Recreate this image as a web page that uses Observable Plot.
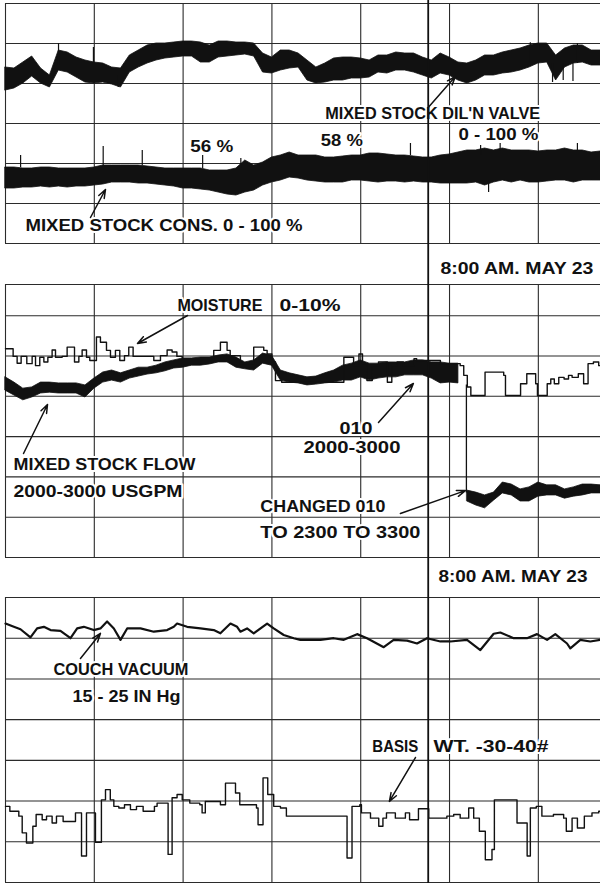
<!DOCTYPE html>
<html><head><meta charset="utf-8">
<script src="https://cdn.jsdelivr.net/npm/d3@7"></script>
<script src="https://cdn.jsdelivr.net/npm/@observablehq/plot@0.6"></script>
<style>
body{margin:0;background:#fff;}
#chart svg{display:block;}
</style></head><body><div id="chart"></div>
<script>
// x: chart position in tenths of a chart division (samples every 0.1 division)
const xGrid = [0,10,20,30,40,50,60];
const timeMark = 47.6; // 8:00 AM. MAY 23

// ---------- Panel 1 (y: chart lines, 10 units per line) ----------
const valveHi = [44,43.75,45.25,46.75,43.75,42,48.25,47.75,46.5,45.75,45.25,45,44,43.75,47,48.25,49.5,50,50,50.25,50.5,50.5,50.25,49.5,50.5,50.5,50.25,50.25,50,47.5,46.5,48.25,48.25,47.5,45.75,44,45,46.25,46.5,46.5,46.25,45.75,47,47,47.75,47.5,47.5,46.5,45.75,47.5,46.5,45.25,45,45.75,47,47,47.75,48.25,48.75,49.5,50,50,47,48.75,49.5,49.5,48.25,48.25];
const valveLo = [38.25,38.75,40,41.75,40,39,43.25,42.75,41.5,40.25,40,40.25,39.75,39,42.75,44,45,45.75,46.25,46.5,46.75,46.75,45.25,45.25,46.5,46.75,47,47.25,46.75,42.75,42.5,43.25,43.75,44,40.75,40,40.25,40.75,40.75,41.25,41.25,41.5,42.75,42.5,43.25,43.25,42.75,42,41.25,42.5,42,40.75,40,40.75,42,42,42.5,42.75,43.25,44,45,45.25,40.75,44,45,45.25,44.5,44.5];
const valveSpikes = [[5.97,50,44.5],[9.9,49,44.5],[12.7,39,42],[59.1,50.2,45],[61.6,40.25,45],[62.8,40.75,45],[63.9,40.5,45],[64.4,50,45]];

const consHi = [19,19,18.75,18.75,19,19,18.75,18.75,18.75,18.75,19,19.5,19.5,19.5,19.5,19.5,19.25,19,18.75,18.75,18.75,18.75,18.75,18.25,18.25,18.25,18.75,20.75,19.5,20.25,21.5,22,22.75,22,22,22,21.5,21.5,21.75,22,22,22.5,22.5,22.25,22,22,21.75,21.5,21.5,22,22.25,22.75,23.25,23.25,23.75,23.25,23.75,23.25,23.25,23.25,23,23.25,23.25,23.75,23.25,23.25,22.75,23];
const consLo = [13.75,13.75,14,14,14.25,14,14.25,14,14.25,14.25,14.5,14.75,15.25,15.25,15.25,15,15,14.75,14.5,14.25,13.75,13.75,13.5,13.25,12.75,12.25,12,12.75,13.25,14.5,15.25,15.75,16.5,16.25,15.75,15.5,15.25,15.25,15.25,15.75,15.75,15.5,15.25,15.5,15.5,15.25,15.5,15.25,15.25,15,15,15,15,15.25,14.5,15.25,15.75,15.25,15.75,15.25,15.25,15.5,15.75,15.75,15.25,15.75,15.75,15.75];
const consSpikes = [[1.7,22,19],[11,24.25,19.5],[15.4,23.25,19.5],[22.2,22,18.75],[26.5,21.25,18.75],[45.6,25,22],[53.5,24.5,22],[55.7,25,23],[64.4,25,23],[54.4,12.75,15]];

// ---------- Panel 2 ----------
const flowHi = [44.7,43.4,41.9,42.2,43.4,43.4,43.2,43.2,43.2,42.7,44.4,45.9,46.4,45.7,46.4,47.1,47.1,47.6,48.4,48.9,49.4,49.4,49.6,49.6,50.1,50.4,49.6,48.4,48.9,50.6,50.1,46.4,45.7,45.2,44.7,44.9,45.7,46.4,47.6,48.1,48.9,48.1,48.1,48.4,48.4,48.4,48.9,48.9,48.4,48.4,48.1,48.1];
const flowLo = [41.4,40.2,39,39.7,40.7,40.9,40.7,40.7,40.7,39.7,41.9,43.4,43.9,43.4,44.4,44.9,45.4,45.7,46.2,46.9,47.1,47.6,47.6,47.9,48.4,48.4,47.1,46.7,46.4,48.1,47.6,43.9,43.4,43.2,42.7,42.9,43.2,43.4,43.9,43.9,44.7,43.9,44.4,44.7,44.7,45.2,45.2,45.2,44.4,43.2,43.4,43.2];
const rangeChange = {x: 51.9, from: 42.8, to: 16};
const flow2Start = 52;
const flow2Hi = [16.6,16.1,15.4,16.1,18.6,18.1,16.9,17.4,18.6,17.9,17.9,16.9,17.4,18.1,18.1,17.9];
const flow2Lo = [13.9,12.9,12.2,14.1,15.9,15.4,13.9,13.9,15.1,15.4,15.4,14.6,15.1,15.4,15.9,15.9];
const moisture = [[0,51.8],[0.86,49.9],[1.31,48.2],[1.76,49.9],[2.4,48.1],[3.0,49.9],[3.38,47.6],[3.86,49.7],[4.32,48.5],[4.77,49.7],[5.25,51.5],[5.63,49.7],[6.38,49.9],[6.94,52.2],[7.5,52.2],[7.77,48.5],[8.26,49.9],[8.63,51.5],[9.12,49.7],[9.49,48.9],[10.24,54.7],[10.69,53.4],[11.37,51.4],[11.82,49.7],[12.38,51.4],[12.87,48.9],[13.4,50.1],[13.88,52.2],[14.37,49.9],[16.7,48.9],[17.45,50.1],[18.2,51.5],[18.76,51.0],[19.3,49.9],[19.9,49.3],[23.45,51.4],[24.2,53.4],[24.95,51.4],[25.3,50.1],[26.45,48.1],[27.95,52.2],[29.08,51.4],[29.46,50.5],[30.0,48.5],[30.4,43.9],[31.1,43.5],[37.0,43.5],[38.1,49.7],[39.2,47.6],[39.8,50.5],[40.2,48.1],[40.7,43.9],[41.3,47.6],[42.0,48.5],[43.0,43.5],[43.5,47.6],[44.1,48.5],[44.8,47.6],[46.0,49.3],[46.3,48.9],[48.97,48.1],[51.2,47.6],[51.6,45.2],[52.0,42.3],[52.4,40.2],[54.0,46.0],[56.1,45.2],[56.3,40.2],[58.0,43.1],[58.7,45.6],[59.7,43.1],[59.9,40.2],[61.0,43.1],[61.4,44.3],[61.8,43.1],[62.3,44.7],[62.9,44.3],[63.4,45.2],[63.8,44.7],[64.5,45.6],[65.1,43.1],[65.6,48.1],[66.2,48.5],[66.8,47.6],[67,47.6]];

// ---------- Panel 3 ----------
const vacuum = [[0,63.6],[0.94,62.8],[1.69,62.2],[2.81,60.2],[3.56,62.4],[4.32,62.8],[5.07,62],[6.19,61.8],[7.32,60],[8.07,62.4],[8.82,62.8],[9.94,62],[10.69,62.4],[11.44,64.1],[12.2,62.4],[12.95,59.6],[13.7,62.4],[15.2,62.4],[16.7,61.6],[18.2,62],[18.95,62.8],[19.32,63.6],[20.45,62.8],[21.95,62.4],[23.45,62],[24.2,61.2],[25.33,63.6],[26.08,62.8],[26.45,61.6],[27.2,62.4],[27.95,61.2],[29.46,63.6],[30.2,62.4],[31.33,60.8],[32.46,60],[33.2,59.6],[34.33,59.6],[35.46,59.6],[36.96,60],[38.09,59.6],[39.59,61],[40.71,60],[42.59,57.8],[43.71,59.6],[45.22,59.4],[46.34,58.7],[47.47,60],[48.97,59.2],[50.09,59.2],[51.97,59.6],[53.47,57.1],[54.97,61.1],[55.72,61.4],[57.22,60],[58.72,60],[59.85,61],[60.98,59.6],[61.91,61],[63.23,58.7],[63.6,57.5],[64.73,59.6],[65.85,59.2],[66.98,59.6]];
const basisWt = [[0,18.7],[0.49,17.5],[1.5,16.3],[1.88,12.2],[2.36,9.7],[3.08,13.8],[3.45,16.7],[4.13,15.4],[4.62,16.3],[5.25,14.6],[5.74,16.3],[6.49,15.0],[7.88,17.1],[8.56,6.5],[9.12,17.1],[10.13,9.9],[10.8,20.3],[11.26,22.8],[11.8,20.3],[12.2,18.7],[12.76,18.3],[13.4,19.1],[14.07,17.9],[14.75,18.7],[15.5,17.5],[16.77,18.7],[17.07,19.5],[18.31,6.9],[18.76,20.8],[19.32,21.6],[19.9,20.3],[20.75,19.5],[21.88,19.1],[22.14,17.1],[22.5,19.9],[24.2,19.1],[24.77,24.4],[25.9,22.0],[26.38,19.1],[28.26,18.3],[28.44,14.2],[29.0,25.7],[29.53,21.6],[30.2,18.7],[30.96,18.3],[31.63,16.3],[38.46,6.0],[39.02,18.7],[39.9,19.1],[40.08,17.1],[41.1,15.8],[42.03,13.8],[42.5,15.8],[42.9,17.1],[43.9,15.8],[45.03,17.1],[45.5,15.4],[46.5,18.1],[47.66,15.8],[49.7,16.3],[50.47,16.7],[51.2,15.8],[52.16,18.3],[52.72,15.8],[53.36,12.6],[54.03,5.6],[54.78,8.1],[55.05,20.3],[57.6,14.6],[58.74,6.5],[59.1,18.3],[59.77,18.7],[60.4,16.3],[61.7,16.7],[62.85,15.8],[63.15,12.6],[63.8,15.8],[64.4,13.4],[65.18,16.3],[66.04,17.1],[66.8,17.5],[67,17.5]];

// ---------- Annotations ----------
const labels1 = [
  {text:"MIXED STOCK DIL'N VALVE", x:36.0, y:32.4, w:215},
  {text:"56 %", x:20.8, y:24.25, w:43},
  {text:"58 %", x:35.5, y:25.75, w:42},
  {text:"0 - 100 %", x:51.0, y:27.25, w:80},
  {text:"MIXED STOCK CONS. 0 - 100 %", x:2.25, y:4.4, w:277}
];
const arrows1 = [
  {x1:47.6, y1:34, x2:50.66, y2:41.75},
  {x1:9.57, y1:6.5, x2:11.26, y2:13.5}
];
const labels2 = [
  {text:"8:00 AM. MAY 23", x:48.97, y:71.6, w:153},
  {text:"MOISTURE", x:19.36, y:62.5, w:85},
  {text:"0-10%", x:30.85, y:62.5, w:61},
  {text:"MIXED STOCK FLOW", x:0.9, y:22.95, w:182},
  {text:"2000-3000 USGPM", x:0.9, y:16.4, w:169},
  {text:"010", x:37.6, y:32.1, w:33},
  {text:"2000-3000", x:33.55, y:27.2, w:97},
  {text:"CHANGED 010", x:28.7, y:12.65, w:125},
  {text:"TO 2300 TO 3300", x:28.7, y:6.3, w:160}
];
const arrows2 = [
  {x1:20.5, y1:60.05, x2:14.86, y2:53.1},
  {x1:2.03, y1:25.8, x2:4.73, y2:37.97},
  {x1:42.0, y1:33.5, x2:45.93, y2:43.18},
  {x1:44.47, y1:10.92, x2:51.78, y2:16.6}
];
const labels3 = [
  {text:"8:00 AM. MAY 23", x:48.75, y:75.06, w:149},
  {text:"COUCH VACUUM", x:5.4, y:52.3, w:135},
  {text:"15 - 25 IN Hg", x:7.54, y:45.7, w:108},
  {text:"BASIS", x:41.3, y:33.3, w:46},
  {text:"WT. -30-40#", x:48.2, y:33.3, w:115}
];
const arrows3 = [
  {x1:8.44, y1:55.04, x2:10.69, y2:61.18},
  {x1:46.16, y1:30.7, x2:43.23, y2:19.9}
];

const FONT = "Liberation Sans, Arial, sans-serif";
const INK = "#111";
const GRID = "#2b2b2b";

function band(hi, lo, start) {
  return hi.map((h, i) => ({x: start + i, hi: h, lo: lo[i]}));
}

function panel({height, marginTop, marginBottom, yDomain, yGrid, timeSpan, marks, labels, arrows}) {
  const svg = Plot.plot({
    width: 600, height, marginLeft: 5, marginRight: 0, marginTop, marginBottom,
    x: {domain: [0, 67], axis: null},
    y: {domain: yDomain, axis: null},
    style: {background: "white", fontFamily: FONT, color: INK},
    marks: [
      Plot.ruleY(yGrid, {stroke: GRID, strokeWidth: 1.1}),
      Plot.ruleX(xGrid, {stroke: GRID, strokeWidth: 1.1}),
      ...marks,
      Plot.text(labels, {x: "x", y: "y", text: "text", textAnchor: "start", fontSize: 17, fontWeight: "bold",
        fontFamily: FONT, fill: INK, stroke: "white", strokeWidth: 4}),
      Plot.arrow(arrows, {x1: "x1", y1: "y1", x2: "x2", y2: "y2", stroke: INK, strokeWidth: 1.5, headLength: 9, headAngle: 40}),
      Plot.ruleX([timeMark], {y1: timeSpan[0], y2: timeSpan[1], stroke: INK, strokeWidth: 1.8})
    ]
  });
  svg.querySelectorAll('g[aria-label="text"] text').forEach((t, i) => {
    if (labels[i]) { t.setAttribute("textLength", labels[i].w); t.setAttribute("lengthAdjust", "spacingAndGlyphs"); }
  });
  return svg;
}

const areaOpts = {x: "x", y1: "lo", y2: "hi", fill: INK, stroke: INK, strokeWidth: 0.8};
const spikeOpts = {x: d => d[0], y1: d => d[1], y2: d => d[2], stroke: INK, strokeWidth: 1.2};

const p1 = panel({
  height: 245, marginTop: 3, marginBottom: 2, yDomain: [0, 60], yGrid: [0,10,20,30,40,50,60],
  timeSpan: [-0.6, 61],
  marks: [
    Plot.areaY(band(valveHi, valveLo, 0), areaOpts),
    Plot.ruleX(valveSpikes, spikeOpts),
    Plot.areaY(band(consHi, consLo, 0), areaOpts),
    Plot.ruleX(consSpikes, spikeOpts)
  ],
  labels: labels1, arrows: arrows1
});

const p2 = panel({
  height: 315, marginTop: 39, marginBottom: 3, yDomain: [0, 67.74], yGrid: [0,10,20,30,40,50,60,67.74],
  timeSpan: [-0.8, 77.5],
  marks: [
    Plot.areaY(band(flowHi, flowLo, 0), areaOpts),
    Plot.ruleX([rangeChange], {x: "x", y1: "from", y2: "to", stroke: INK, strokeWidth: 1.3}),
    Plot.areaY(band(flow2Hi, flow2Lo, flow2Start), areaOpts),
    Plot.line(moisture, {x: d => d[0], y: d => d[1], curve: "step-after", stroke: INK, strokeWidth: 1.4})
  ],
  labels: labels2, arrows: arrows2
});

const p3 = panel({
  height: 323, marginTop: 37, marginBottom: 1, yDomain: [0, 70], yGrid: [0,10,20,30,40,50,60,70],
  timeSpan: [-0.4, 79.2],
  marks: [
    Plot.line(vacuum, {x: d => d[0], y: d => d[1], stroke: INK, strokeWidth: 2.2}),
    Plot.line(basisWt, {x: d => d[0], y: d => d[1], curve: "step-after", stroke: INK, strokeWidth: 1.4})
  ],
  labels: labels3, arrows: arrows3
});

const root = document.getElementById("chart");
root.append(p1, p2, p3);
</script></body></html>
